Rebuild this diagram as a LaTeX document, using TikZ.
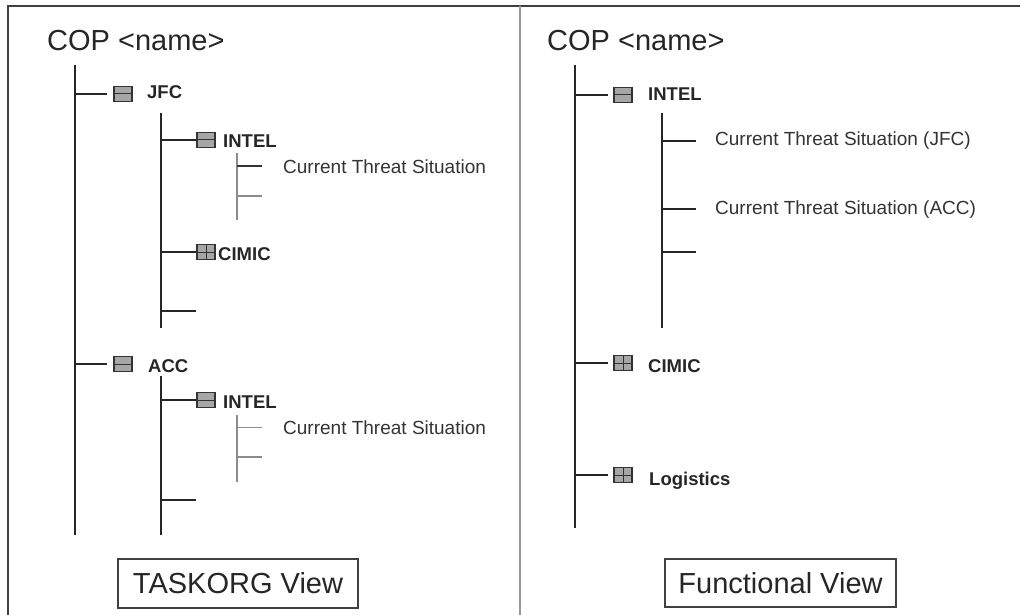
\documentclass[tikz,border=0pt]{standalone}
\usepackage{fontspec}
\setmainfont{Liberation Sans}
\begin{document}
\begin{tikzpicture}[x=1pt,y=-1pt,
  trunk/.style={line width=2.4pt, draw=black!85},
  twig/.style={line width=1.3pt, draw=black!45},
  darktwig/.style={line width=1.5pt, draw=black!80},
  frameline/.style={line width=2.6pt, draw=black!75},
  divider/.style={line width=2pt, draw=black!40},
  title/.style={anchor=base west, inner sep=0pt, text=black!85, font=\fontsize{29}{34}\selectfont},
  lbl/.style={anchor=base west, inner sep=0pt, text=black!85, font=\bfseries\fontsize{18.5}{22}\selectfont},
  item/.style={anchor=base west, inner sep=0pt, text=black!80, font=\fontsize{19}{23}\selectfont},
  viewbox/.style={draw=black!75, line width=1.3pt, inner sep=0pt, text=black!85, font=\fontsize{29}{34}\selectfont},
  icon/.style={rectangle, draw=black!80, line width=1.1pt, fill=black!35, minimum width=18pt, minimum height=15pt, inner sep=0pt},
  minusicon/.style={icon, path picture={\draw[line width=1pt, black!80] (path picture bounding box.west) -- (path picture bounding box.east);}},
  plusicon/.style={icon, path picture={\draw[line width=1pt, black!80] (path picture bounding box.west) -- (path picture bounding box.east) (path picture bounding box.north) -- (path picture bounding box.south);}}
]
\useasboundingbox (0,0) rectangle (1020,615);

% frame
\coordinate (fTR) at (1020,6);
\coordinate (fTL) at (8,6);
\coordinate (fBL) at (8,615);
\coordinate (dT) at (520,6);
\coordinate (dB) at (520,615);
\draw[frameline] (fTR) -- (fTL) -- (fBL);
\draw[divider] (dT) -- (dB);

% ================= LEFT: TASKORG view =================
\node[title] (copL) at (47,51) {COP <name>};
\coordinate (tL0) at (75,65);
\coordinate (tL1) at (75,535);
\draw[trunk] (tL0) -- (tL1);

% JFC
\node[minusicon] (iJFC) at (123,94) {};
\node[lbl] (lJFC) at (147,99) {JFC};
\draw[trunk] (tL0 |- iJFC) -- ([xshift=-6pt]iJFC.west);
\coordinate (sA0) at (161,113);
\coordinate (sA1) at (161,328);
\draw[trunk] (sA0) -- (sA1);

\node[minusicon] (iIntA) at (206,140) {};
\node[lbl] (lIntA) at (223,147) {INTEL};
\draw[trunk] (sA0 |- iIntA) -- (iIntA.west);
\coordinate (gA0) at (237,153);
\coordinate (gA1) at (237,220);
\draw[twig] (gA0) -- (gA1);
\node[item] (cA) at (283,173) {Current Threat Situation};
\draw[darktwig] (gA0 |- cA.west) -- ([xshift=-21pt]cA.west);
\coordinate (gA2) at (237,196);
\coordinate (gA2e) at (262,196);
\draw[twig] (gA2) -- (gA2e);

\node[plusicon] (iCimA) at (206,252) {};
\node[lbl] (lCimA) at (218,260) {CIMIC};
\draw[trunk] (sA0 |- iCimA) -- (iCimA.west);
\coordinate (eA) at (196,311);
\draw[trunk] (sA0 |- eA) -- (eA);

% ACC
\node[minusicon] (iACC) at (123,364) {};
\node[lbl] (lACC) at (148,372) {ACC};
\draw[trunk] (tL0 |- iACC) -- ([xshift=-6pt]iACC.west);
\coordinate (sB0) at (161,376);
\coordinate (sB1) at (161,535);
\draw[trunk] (sB0) -- (sB1);

\node[minusicon] (iIntB) at (206,400) {};
\node[lbl] (lIntB) at (223,408) {INTEL};
\draw[trunk] (sB0 |- iIntB) -- (iIntB.west);
\coordinate (gB0) at (237,415);
\coordinate (gB1) at (237,482);
\draw[twig] (gB0) -- (gB1);
\node[item] (cB) at (283,434) {Current Threat Situation};
\draw[twig] (gB0 |- cB.west) -- ([xshift=-21pt]cB.west);
\coordinate (gB2) at (237,457);
\coordinate (gB2e) at (262,457);
\draw[twig] (gB2) -- (gB2e);
\coordinate (eB) at (196,500);
\draw[trunk] (sB0 |- eB) -- (eB);

\node[viewbox, minimum width=240pt, minimum height=49pt] (vL) at (238,583.5) {TASKORG View};

% ================= RIGHT: Functional view =================
\node[title] (copR) at (547,51) {COP <name>};
\coordinate (tR0) at (575,65);
\coordinate (tR1) at (575,528);
\draw[trunk] (tR0) -- (tR1);

\node[minusicon] (iIntR) at (623,95) {};
\node[lbl] (lIntR) at (648,101) {INTEL};
\draw[trunk] (tR0 |- iIntR) -- ([xshift=-5pt]iIntR.west);
\coordinate (sR0) at (662,113);
\coordinate (sR1) at (662,328);
\draw[trunk] (sR0) -- (sR1);

\node[item] (cJ) at (715,146) {Current Threat Situation (JFC)};
\draw[trunk] (sR0 |- cJ.west) -- ([xshift=-19pt]cJ.west);
\node[item] (cC) at (715,214) {Current Threat Situation (ACC)};
\draw[trunk] (sR0 |- cC.west) -- ([xshift=-19pt]cC.west);
\coordinate (eR) at (696,252);
\draw[trunk] (sR0 |- eR) -- (eR);

\node[plusicon] (iCimR) at (623,363) {};
\node[lbl] (lCimR) at (648,372) {CIMIC};
\draw[trunk] (tR0 |- iCimR) -- ([xshift=-5pt]iCimR.west);

\node[plusicon] (iLogR) at (623,475) {};
\node[lbl] (lLogR) at (649,485) {Logistics};
\draw[trunk] (tR0 |- iLogR) -- ([xshift=-5pt]iLogR.west);

\node[viewbox, minimum width=231pt, minimum height=48pt] (vR) at (780.5,583) {Functional View};
\end{tikzpicture}
\end{document}
